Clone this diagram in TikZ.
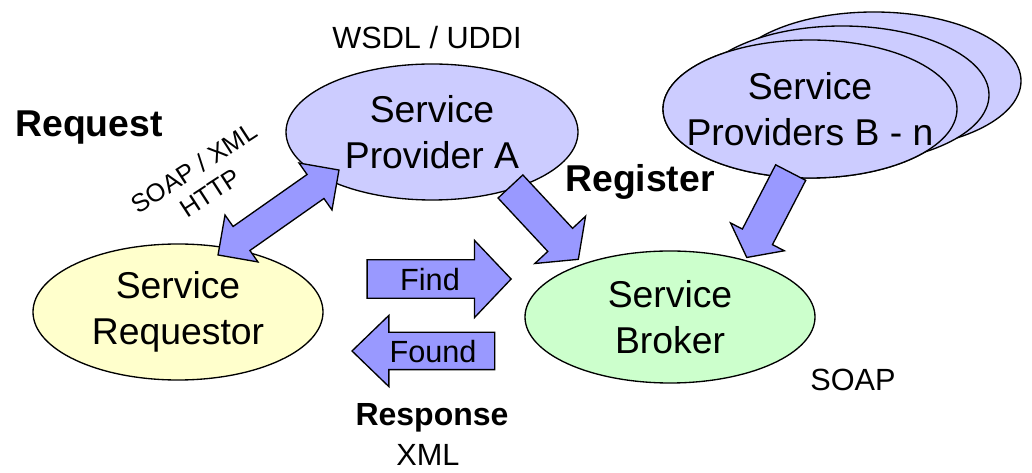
\documentclass[tikz,border=0pt]{standalone}
\usepackage{fontspec}
\setmainfont{Liberation Sans}
\usepackage{tikz}
\usetikzlibrary{calc,shapes.geometric,shapes.arrows}

\definecolor{provblue}{HTML}{CCCCFF}
\definecolor{arrowblue}{HTML}{9999FF}
\definecolor{reqyellow}{HTML}{FFFFCC}
\definecolor{brokergreen}{HTML}{CCFFCC}

% fat arrow node stretched from one named point to another
\newcommand{\fatarrow}[3][]{%
  \path let \p1=($(#3)-(#2)$), \n1={atan2(\y1,\x1)}, \n2={veclen(\x1,\y1)} in
    node[#1, rotate=\n1, minimum height=\n2, anchor=tail] at (#2) {};}
\newcommand{\dblarrow}[3][]{%
  \path let \p1=($(#3)-(#2)$), \n1={atan2(\y1,\x1)}, \n2={veclen(\x1,\y1)} in
    node[#1, rotate=\n1, minimum height=\n2] at ($(#2)!0.5!(#3)$) {};}

\begin{document}
\begin{tikzpicture}[x=0.75pt,y=-0.75pt,
  svc/.style={ellipse, draw=black, line width=1pt, inner sep=0pt, align=center,
    font=\fontsize{28}{34}\selectfont},
  regarrow/.style={single arrow, draw=black, fill=arrowblue, line width=1pt,
    inner xsep=0pt, inner ysep=12.2pt, single arrow tip angle=105},
  msgarrow/.style={single arrow, draw=black, fill=arrowblue, line width=1pt,
    inner xsep=0pt, text height=17pt, text depth=0pt,
    font=\fontsize{23}{28}\selectfont},
  lbl/.style={font=\fontsize{23}{28}\selectfont},
  boldlbl/.style={font=\bfseries\fontsize{28}{34}\selectfont}]

\useasboundingbox (0,0) rectangle (1032,473);

% Service providers B - n (stacked)
\node[svc, fill=provblue, minimum width=220.5pt, minimum height=103.5pt] (provB) at (810,109) {};
\node[svc, fill=provblue, minimum width=220.5pt, minimum height=103.5pt] (provB3) at ($(provB)+(64,-28)$) {};
\node[svc, fill=provblue, minimum width=220.5pt, minimum height=103.5pt] (provB2) at ($(provB)+(32,-14)$) {};
\node[svc, fill=provblue, minimum width=220.5pt, minimum height=103.5pt,
  label={[align=center, font=\fontsize{28}{34}\selectfont]center:Service\\Providers B - n}] (provBf) at (provB) {};

% Main services
\node[svc, fill=provblue, minimum width=219pt, minimum height=102pt] (provA) at (432,132) {Service\\Provider A};
\node[svc, fill=reqyellow, minimum width=217.5pt, minimum height=102pt] (req) at (178,312) {Service\\Requestor};
\node[svc, fill=brokergreen, minimum width=217.5pt, minimum height=99pt] (broker) at (670,317) {Service\\Broker};

% Arrow end points
\coordinate (reqtip) at ($(req.center)+(40,-57)$);
\coordinate (provAtip) at ($(provA.center)+(-93,38)$);
\coordinate (provAout) at ($(provA.center)+(78,54)$);
\coordinate (brokerinA) at ($(broker.center)+(-92,-58)$);
\coordinate (provBout) at ($(provB.center)+(-19,63)$);
\coordinate (brokerinB) at ($(broker.center)+(77,-60)$);

% Request / register arrows
\dblarrow[double arrow, draw=black, fill=arrowblue, line width=1pt, inner xsep=0pt,
  inner ysep=10.5pt, double arrow head extend=10.5pt, double arrow tip angle=90]{reqtip}{provAtip}
\fatarrow[regarrow, single arrow head extend=13.3pt]{provAout}{brokerinA}
\fatarrow[regarrow, single arrow head extend=10pt]{provBout}{brokerinB}

% Find / Found
\node[msgarrow, minimum height=108pt, inner ysep=5.4pt, single arrow head extend=14.6pt,
  single arrow tip angle=93] (find) at (430,279) {Find};
\node[msgarrow, shape border rotate=180, minimum height=107pt, inner ysep=5pt,
  single arrow head extend=12.7pt, single arrow tip angle=88] (found) at (433,351) {Found};

% Labels
\node[lbl] (wsdl) at (427,38) {WSDL / UDDI};
\node[boldlbl] (request) at (89,128) {Request};
\node[align=center, rotate=33, font=\fontsize{19}{22}\selectfont] (soapxml) at (202,180) {SOAP / XML\\HTTP};
\node[boldlbl] (register) at (640,182) {Register};
\node[boldlbl, font=\bfseries\fontsize{24}{28}\selectfont] (response) at (432,418) {Response};
\node[lbl] (xml) at (428,455) {XML};
\node[lbl] (soap) at (853,380) {SOAP};
\end{tikzpicture}
\end{document}
